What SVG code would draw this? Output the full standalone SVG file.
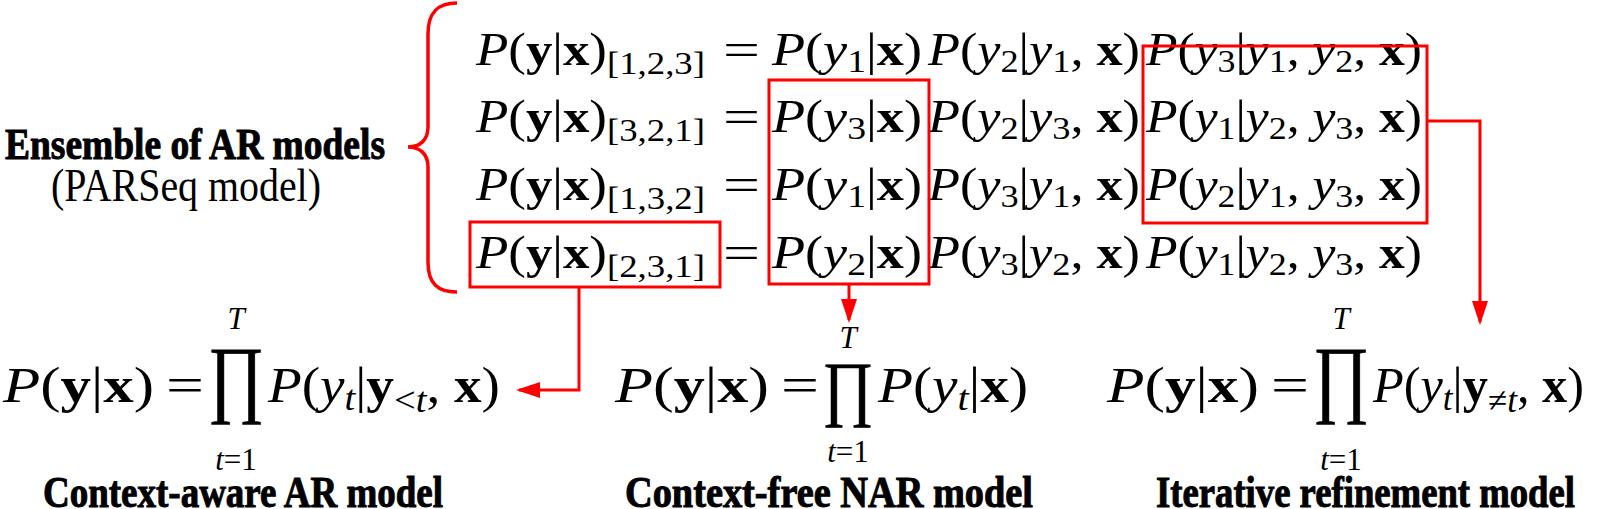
<svg xmlns="http://www.w3.org/2000/svg" width="1607" height="509" viewBox="0 0 1607 509">
<style>
.m{font-family:"Liberation Serif",serif;font-size:46px;fill:#000}
.n{font-size:50px}
.i{font-style:italic}
.b{font-weight:bold}
.s{font-size:32px}
.t{font-size:35px}
.l{font-size:31px}
.r{fill:none;stroke:#f00;stroke-width:3}
.c{fill:none;stroke:#f00;stroke-width:3}
.lbl{font-family:"Liberation Serif",serif;font-weight:bold;font-size:44px;fill:#000;stroke:#000;stroke-width:1}
.pr{font-family:"Liberation Serif",serif;fill:#000;stroke:#000;stroke-width:0.6}
</style>
<defs>
<marker id="ah" markerUnits="userSpaceOnUse" markerWidth="24" markerHeight="16" refX="21" refY="8" orient="auto">
<path d="M0,0 L24,8 L0,16 z" fill="#f00"/>
</marker>
</defs>
<rect width="1607" height="509" fill="#fff"/>

<g id="ensemble-label">
<path d="M457,3 C438,3 428,12 428,34 L428,127 C428,140 420,147 408,147 C420,147 428,154 428,167 L428,262 C428,284 438,292 457,292" fill="none" stroke="#f00" stroke-width="3.5"/>
<text class="lbl" x="5" y="159" textLength="380" lengthAdjust="spacingAndGlyphs" font-size="38" stroke-width="0.8">Ensemble of AR models</text>
<text class="m" x="51" y="201" font-size="36" textLength="270" lengthAdjust="spacingAndGlyphs">(PARSeq model)</text>
</g>

<g id="row1">
<text class="m" x="476" y="65" textLength="229" lengthAdjust="spacingAndGlyphs"><tspan class="i">P</tspan>(<tspan class="b">y</tspan>|<tspan class="b">x</tspan>)<tspan class="s" dy="9">[1,2,3]</tspan></text>
<text class="m" x="723" y="65" textLength="37" lengthAdjust="spacingAndGlyphs">=</text>
<text class="m" x="772" y="65" textLength="150" lengthAdjust="spacingAndGlyphs"><tspan class="i">P</tspan>(<tspan class="i">y</tspan><tspan class="s" dy="7">1</tspan><tspan dy="-7">|</tspan><tspan class="b">x</tspan>)</text>
<text class="m" x="928" y="65" textLength="212" lengthAdjust="spacingAndGlyphs"><tspan class="i">P</tspan>(<tspan class="i">y</tspan><tspan class="s" dy="7">2</tspan><tspan dy="-7">|</tspan><tspan class="i">y</tspan><tspan class="s" dy="7">1</tspan><tspan dy="-7">, </tspan><tspan class="b">x</tspan>)</text>
<text class="m" x="1146" y="65" textLength="276" lengthAdjust="spacingAndGlyphs"><tspan class="i">P</tspan>(<tspan class="i">y</tspan><tspan class="s" dy="7">3</tspan><tspan dy="-7">|</tspan><tspan class="i">y</tspan><tspan class="s" dy="7">1</tspan><tspan dy="-7">, </tspan><tspan class="i">y</tspan><tspan class="s" dy="7">2</tspan><tspan dy="-7">, </tspan><tspan class="b">x</tspan>)</text>
</g>

<g id="row2">
<text class="m" x="476" y="132" textLength="229" lengthAdjust="spacingAndGlyphs"><tspan class="i">P</tspan>(<tspan class="b">y</tspan>|<tspan class="b">x</tspan>)<tspan class="s" dy="9">[3,2,1]</tspan></text>
<text class="m" x="723" y="132" textLength="37" lengthAdjust="spacingAndGlyphs">=</text>
<text class="m" x="772" y="132" textLength="150" lengthAdjust="spacingAndGlyphs"><tspan class="i">P</tspan>(<tspan class="i">y</tspan><tspan class="s" dy="7">3</tspan><tspan dy="-7">|</tspan><tspan class="b">x</tspan>)</text>
<text class="m" x="928" y="132" textLength="212" lengthAdjust="spacingAndGlyphs"><tspan class="i">P</tspan>(<tspan class="i">y</tspan><tspan class="s" dy="7">2</tspan><tspan dy="-7">|</tspan><tspan class="i">y</tspan><tspan class="s" dy="7">3</tspan><tspan dy="-7">, </tspan><tspan class="b">x</tspan>)</text>
<text class="m" x="1146" y="132" textLength="276" lengthAdjust="spacingAndGlyphs"><tspan class="i">P</tspan>(<tspan class="i">y</tspan><tspan class="s" dy="7">1</tspan><tspan dy="-7">|</tspan><tspan class="i">y</tspan><tspan class="s" dy="7">2</tspan><tspan dy="-7">, </tspan><tspan class="i">y</tspan><tspan class="s" dy="7">3</tspan><tspan dy="-7">, </tspan><tspan class="b">x</tspan>)</text>
</g>

<g id="row3">
<text class="m" x="476" y="200" textLength="229" lengthAdjust="spacingAndGlyphs"><tspan class="i">P</tspan>(<tspan class="b">y</tspan>|<tspan class="b">x</tspan>)<tspan class="s" dy="9">[1,3,2]</tspan></text>
<text class="m" x="723" y="200" textLength="37" lengthAdjust="spacingAndGlyphs">=</text>
<text class="m" x="772" y="200" textLength="150" lengthAdjust="spacingAndGlyphs"><tspan class="i">P</tspan>(<tspan class="i">y</tspan><tspan class="s" dy="7">1</tspan><tspan dy="-7">|</tspan><tspan class="b">x</tspan>)</text>
<text class="m" x="928" y="200" textLength="212" lengthAdjust="spacingAndGlyphs"><tspan class="i">P</tspan>(<tspan class="i">y</tspan><tspan class="s" dy="7">3</tspan><tspan dy="-7">|</tspan><tspan class="i">y</tspan><tspan class="s" dy="7">1</tspan><tspan dy="-7">, </tspan><tspan class="b">x</tspan>)</text>
<text class="m" x="1146" y="200" textLength="276" lengthAdjust="spacingAndGlyphs"><tspan class="i">P</tspan>(<tspan class="i">y</tspan><tspan class="s" dy="7">2</tspan><tspan dy="-7">|</tspan><tspan class="i">y</tspan><tspan class="s" dy="7">1</tspan><tspan dy="-7">, </tspan><tspan class="i">y</tspan><tspan class="s" dy="7">3</tspan><tspan dy="-7">, </tspan><tspan class="b">x</tspan>)</text>
</g>

<g id="row4">
<text class="m" x="476" y="268" textLength="229" lengthAdjust="spacingAndGlyphs"><tspan class="i">P</tspan>(<tspan class="b">y</tspan>|<tspan class="b">x</tspan>)<tspan class="s" dy="9">[2,3,1]</tspan></text>
<text class="m" x="723" y="268" textLength="37" lengthAdjust="spacingAndGlyphs">=</text>
<text class="m" x="772" y="268" textLength="150" lengthAdjust="spacingAndGlyphs"><tspan class="i">P</tspan>(<tspan class="i">y</tspan><tspan class="s" dy="7">2</tspan><tspan dy="-7">|</tspan><tspan class="b">x</tspan>)</text>
<text class="m" x="928" y="268" textLength="212" lengthAdjust="spacingAndGlyphs"><tspan class="i">P</tspan>(<tspan class="i">y</tspan><tspan class="s" dy="7">3</tspan><tspan dy="-7">|</tspan><tspan class="i">y</tspan><tspan class="s" dy="7">2</tspan><tspan dy="-7">, </tspan><tspan class="b">x</tspan>)</text>
<text class="m" x="1146" y="268" textLength="276" lengthAdjust="spacingAndGlyphs"><tspan class="i">P</tspan>(<tspan class="i">y</tspan><tspan class="s" dy="7">1</tspan><tspan dy="-7">|</tspan><tspan class="i">y</tspan><tspan class="s" dy="7">2</tspan><tspan dy="-7">, </tspan><tspan class="i">y</tspan><tspan class="s" dy="7">3</tspan><tspan dy="-7">, </tspan><tspan class="b">x</tspan>)</text>
</g>

<g id="box-ar">
<rect class="r" x="470" y="222" width="250" height="65"/>
</g>
<g id="box-nar">
<rect class="r" x="769" y="80" width="160" height="204"/>
</g>
<g id="box-refine">
<rect class="r" x="1143" y="46" width="284" height="177"/>
</g>

<g id="connectors">
<path class="c" d="M579,287 L579,390 L519,390" marker-end="url(#ah)"/>
<path class="c" d="M849,284 L849,320" marker-end="url(#ah)"/>
<path class="c" d="M1427,121 L1480,121 L1480,322" marker-end="url(#ah)"/>
</g>

<g id="ar-model">
<text class="m n" x="3" y="402" textLength="151" lengthAdjust="spacingAndGlyphs"><tspan class="i">P</tspan>(<tspan class="b">y</tspan>|<tspan class="b">x</tspan>)</text>
<text class="m n" x="166" y="402" textLength="38" lengthAdjust="spacingAndGlyphs">=</text>
<text class="m l i" x="236" y="329" text-anchor="middle">T</text>
<text class="pr" font-size="86" text-anchor="middle" transform="translate(236,406) scale(0.8,1)">∏</text>
<text class="m l" x="236" y="470" text-anchor="middle"><tspan class="i">t</tspan>=1</text>
<text class="m n" x="268" y="402" textLength="232" lengthAdjust="spacingAndGlyphs"><tspan class="i">P</tspan>(<tspan class="i">y</tspan><tspan class="t i" dy="8">t</tspan><tspan dy="-8">|</tspan><tspan class="b">y</tspan><tspan class="t" dy="10">&lt;<tspan class="i">t</tspan></tspan><tspan dy="-10">, </tspan><tspan class="b">x</tspan>)</text>
<text class="lbl" x="43" y="507" textLength="400" lengthAdjust="spacingAndGlyphs">Context-aware AR model</text>
</g>

<g id="nar-model">
<text class="m n" x="615" y="402" textLength="154" lengthAdjust="spacingAndGlyphs"><tspan class="i">P</tspan>(<tspan class="b">y</tspan>|<tspan class="b">x</tspan>)</text>
<text class="m n" x="781" y="402" textLength="38" lengthAdjust="spacingAndGlyphs">=</text>
<text class="m l i" x="848" y="348" text-anchor="middle">T</text>
<text class="pr" font-size="72" text-anchor="middle" transform="translate(848,412) scale(0.87,1)">∏</text>
<text class="m l" x="848" y="462" text-anchor="middle"><tspan class="i">t</tspan>=1</text>
<text class="m n" x="878" y="402" textLength="150" lengthAdjust="spacingAndGlyphs"><tspan class="i">P</tspan>(<tspan class="i">y</tspan><tspan class="t i" dy="8">t</tspan><tspan dy="-8">|</tspan><tspan class="b">x</tspan>)</text>
<text class="lbl" x="625" y="507" textLength="408" lengthAdjust="spacingAndGlyphs">Context-free NAR model</text>
</g>

<g id="refinement-model">
<text class="m n" x="1107" y="402" textLength="152" lengthAdjust="spacingAndGlyphs"><tspan class="i">P</tspan>(<tspan class="b">y</tspan>|<tspan class="b">x</tspan>)</text>
<text class="m n" x="1271" y="402" textLength="38" lengthAdjust="spacingAndGlyphs">=</text>
<text class="m l i" x="1341" y="329" text-anchor="middle">T</text>
<text class="pr" font-size="86" text-anchor="middle" transform="translate(1341,406) scale(0.8,1)">∏</text>
<text class="m l" x="1341" y="470" text-anchor="middle"><tspan class="i">t</tspan>=1</text>
<text class="m n" x="1373" y="402" textLength="211" lengthAdjust="spacingAndGlyphs"><tspan class="i">P</tspan>(<tspan class="i">y</tspan><tspan class="t i" dy="8">t</tspan><tspan dy="-8">|</tspan><tspan class="b">y</tspan><tspan class="t" dy="10">≠<tspan class="i">t</tspan></tspan><tspan dy="-10">, </tspan><tspan class="b">x</tspan>)</text>
<text class="lbl" x="1156" y="507" textLength="419" lengthAdjust="spacingAndGlyphs">Iterative refinement model</text>
</g>
</svg>
